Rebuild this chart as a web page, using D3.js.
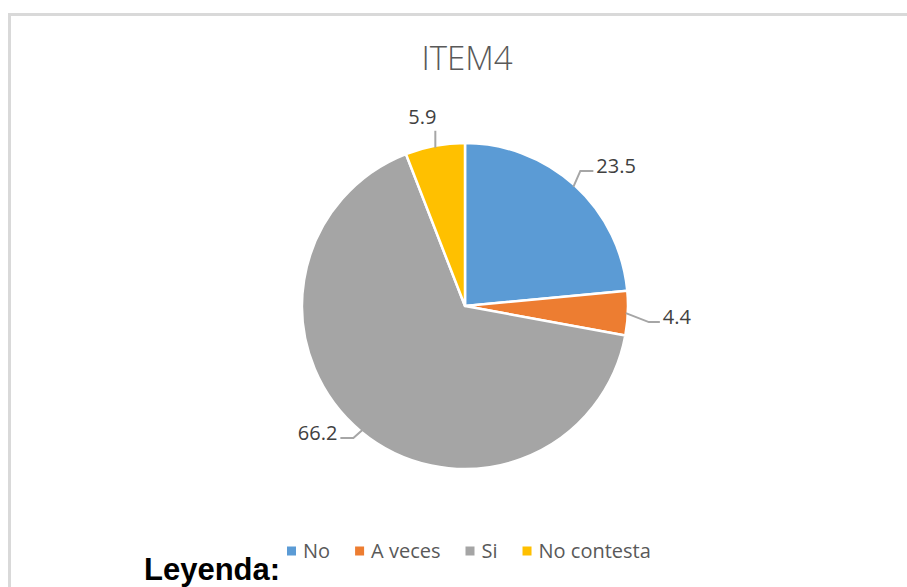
<!DOCTYPE html>
<meta charset="utf-8">
<style>
  body { margin: 0; background: #fff; }
  svg { display: block; }
  .title { font: 300 33px "Open Sans", sans-serif; fill: #595959; }
  .label { font: 20px "Open Sans", sans-serif; fill: #404040; }
  .leader { fill: none; stroke: #a6a6a6; stroke-width: 2px; }
  .legend text { font: 20px "Open Sans", sans-serif; fill: #595959; }
  .leyenda { font: bold 31px "Liberation Sans", Arial, sans-serif; fill: #000; }
</style>
<svg width="907" height="587"></svg>
<script src="https://d3js.org/d3.v7.min.js"></script>
<script>

var categories = ["No", "A veces", "Si", "No contesta"];
var values = [23.5, 4.4, 66.2, 5.9];
var colors = ["#5b9bd5", "#ed7d31", "#a5a5a5", "#ffc000"];

// leader line shape per slice: [elbow dx, elbow dy, horizontal run, text anchor]
var leaders = [
  [7, -16, 13, "start"],
  [23, 9, 11, "start"],
  [-9, 8, -13, "end"],
  [0, -17, 0, "middle"]
];

var svg = d3.select("svg"),
    width = +svg.attr("width"),
    height = +svg.attr("height");

// chart frame
svg.append("path")
    .attr("d", "M9.5," + height + "V14.5H" + width)
    .attr("fill", "none")
    .attr("stroke", "#d9d9d9")
    .attr("stroke-width", 3);

svg.append("text")
    .attr("class", "title")
    .attr("x", 467)
    .attr("y", 70)
    .attr("text-anchor", "middle")
    .text("ITEM4");

var cx = 465, cy = 306, r = 163;
var g = svg.append("g").attr("transform", "translate(" + cx + "," + cy + ")");

var data = categories.map(function(c, i) { return { name: c, value: values[i], color: colors[i], i: i }; });

var pie = d3.pie().sort(null).value(function(d) { return d.value; });
var arc = d3.arc().innerRadius(0).outerRadius(r);
var arcs = pie(data);

g.selectAll(".slice")
    .data(arcs)
    .enter().append("path")
    .attr("class", "slice")
    .attr("d", arc)
    .attr("fill", function(d) { return d.data.color; })
    .attr("stroke", "#fff")
    .attr("stroke-width", 2.5)
    .attr("stroke-linejoin", "round");

arcs.forEach(function(d) {
  var a = (d.startAngle + d.endAngle) / 2;
  var x0 = (r - 2) * Math.sin(a), y0 = -(r - 2) * Math.cos(a);
  var L = leaders[d.data.i];
  var x1 = x0 + L[0], y1 = y0 + L[1];
  var x2 = x1 + L[2], y2 = y1;
  g.append("path")
      .attr("class", "leader")
      .attr("d", "M" + x0 + "," + y0 + "L" + x1 + "," + y1 + "L" + x2 + "," + y2);
  var t = g.append("text")
      .attr("class", "label")
      .attr("text-anchor", L[3])
      .text(d.data.value.toFixed(1));
  if (L[3] === "middle") {
    t.attr("x", x2 - 13).attr("y", y2 - 7);
  } else {
    t.attr("x", x2 + (L[3] === "start" ? 3 : -3)).attr("y", y2 + 2);
  }
});

// legend
var legend = svg.append("g").attr("class", "legend");
var lx = 287, ly = 551;
data.forEach(function(d) {
  legend.append("rect")
      .attr("x", lx).attr("y", ly - 4.5)
      .attr("width", 9).attr("height", 9)
      .attr("fill", d.color);
  var t = legend.append("text")
      .attr("x", lx + 16).attr("y", ly + 7)
      .text(d.name);
  lx += 16 + t.node().getComputedTextLength() + 25;
});

svg.append("text")
    .attr("class", "leyenda")
    .attr("x", 144)
    .attr("y", 580)
    .text("Leyenda:");

</script>
